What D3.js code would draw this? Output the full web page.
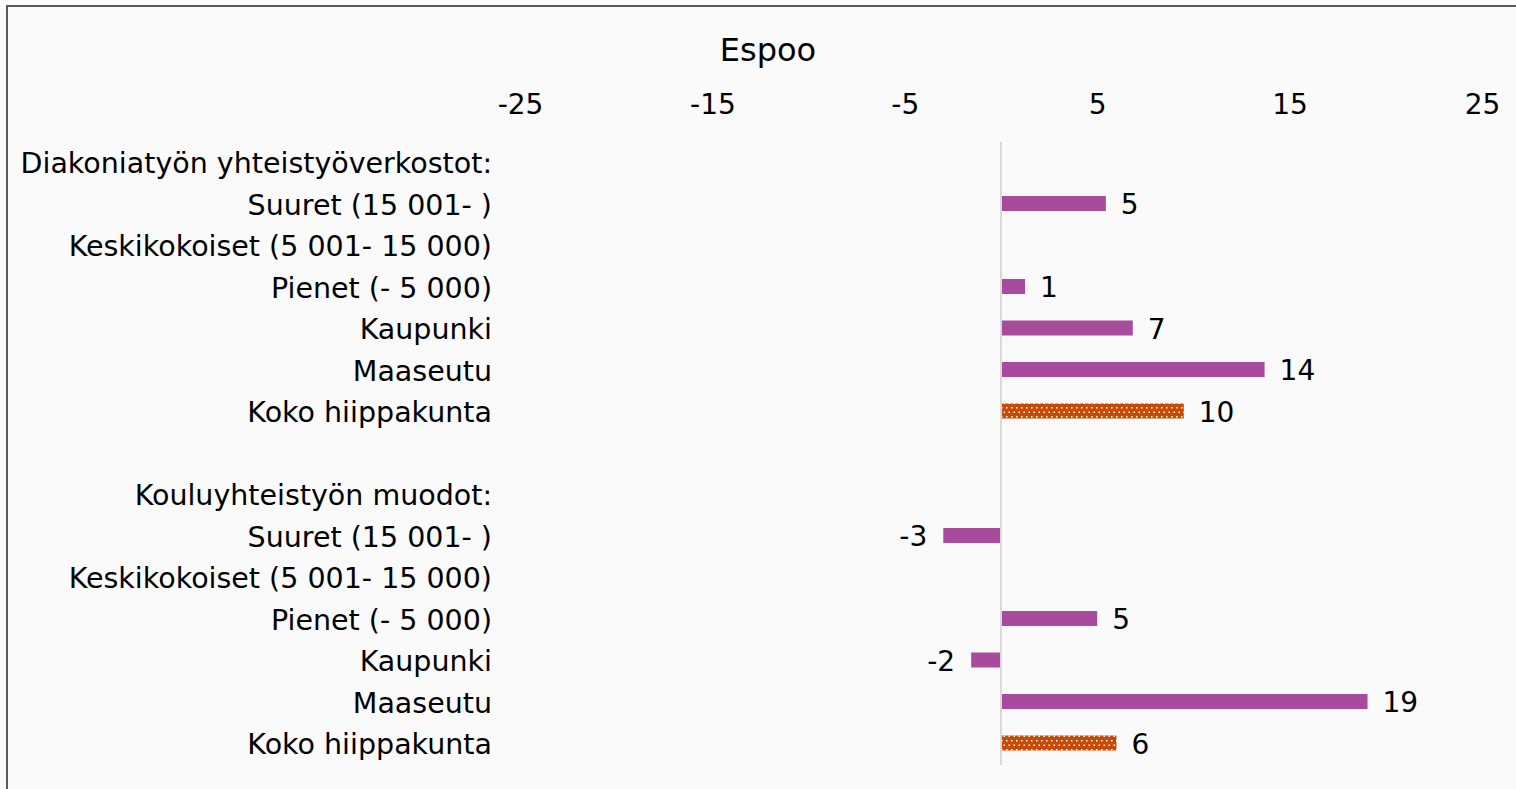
<!DOCTYPE html>
<html><head><meta charset="utf-8">
<script src="https://cdn.jsdelivr.net/npm/d3@7"></script>
<style>
html,body{margin:0;padding:0;background:#fafafa;}
svg{display:block;font-family:"DejaVu Sans",Verdana,sans-serif;}
</style></head>
<body><svg id="chart" width="1516" height="789"></svg>
<script>
const title = "Espoo";
const categories = [
  "Diakoniatyön yhteistyöverkostot:",
  "Suuret (15 001- )",
  "Keskikokoiset (5 001- 15 000)",
  "Pienet (- 5 000)",
  "Kaupunki",
  "Maaseutu",
  "Koko hiippakunta",
  "",
  "Kouluyhteistyön muodot:",
  "Suuret (15 001- )",
  "Keskikokoiset (5 001- 15 000)",
  "Pienet (- 5 000)",
  "Kaupunki",
  "Maaseutu",
  "Koko hiippakunta"
];
const values = [null, 5.45, null, 1.25, 6.85, 13.7, 9.5, null, null, -3.0, null, 5.0, -1.55, 19.05, 6.0];
const isTotal = [false,false,false,false,false,false,true,false,false,false,false,false,false,false,true];
const tickValues = [-25, -15, -5, 5, 15, 25];

const svg = d3.select("#chart");
const W = 1516, H = 789;
svg.append("rect").attr("x",7).attr("y",6).attr("width",W).attr("height",H)
  .attr("fill","#fafafa").attr("stroke","#595959").attr("stroke-width",2);

const defs = svg.append("defs");
const pat = defs.append("pattern").attr("id","dots").attr("patternUnits","userSpaceOnUse")
  .attr("width",5).attr("height",9).attr("y",1);
pat.append("rect").attr("width",5).attr("height",9).attr("fill","#C84B05");
pat.append("rect").attr("x",1).attr("y",1).attr("width",1.5).attr("height",1.5).attr("fill","#fff");
pat.append("rect").attr("x",3.5).attr("y",5.5).attr("width",1.5).attr("height",1.5).attr("fill","#fff");

const x = d3.scaleLinear().domain([-25,25]).range([520,1482]);
const y = d3.scalePoint().domain(d3.range(categories.length)).range([162,743]);

const fs = 28.5;
svg.append("text").attr("x",768).attr("y",50).attr("text-anchor","middle")
  .attr("dy","0.35em").attr("font-size",32).attr("fill","#000").text(title);

const axis = svg.append("g").attr("transform","translate(0,104)")
  .call(d3.axisTop(x).tickValues(tickValues).tickSize(0).tickPadding(0).tickFormat(d=>String(d)));
axis.select(".domain").remove();
axis.selectAll("text").attr("font-size",28).attr("font-family","DejaVu Sans, Verdana, sans-serif")
  .attr("fill","#000").attr("dy","0.36em");

svg.append("line").attr("x1",x(0)).attr("x2",x(0)).attr("y1",142).attr("y2",765)
  .attr("stroke","#d9d9d9").attr("stroke-width",2);

svg.append("g").selectAll("text").data(categories).join("text")
  .attr("x",492).attr("y",(d,i)=>y(i)).attr("text-anchor","end").attr("dy","0.39em")
  .attr("font-size",fs).attr("fill","#000").text(d=>d);

const data = values.map((v,i)=>({v,i,total:isTotal[i]})).filter(d=>d.v!==null);
const bh = 15;
svg.append("g").selectAll("rect").data(data).join("rect")
  .attr("x",d=>x(Math.min(0,d.v))+(d.v>0?1:0))
  .attr("y",d=>y(d.i)-bh/2)
  .attr("width",d=>Math.abs(x(d.v)-x(0))-1)
  .attr("height",bh)
  .attr("fill",d=>d.total?"url(#dots)":"#A94B9C");

svg.append("g").selectAll("text").data(data).join("text")
  .attr("x",d=>d.v>=0 ? x(d.v)+15 : x(d.v)-16)
  .attr("y",d=>y(d.i)).attr("dy","0.39em")
  .attr("text-anchor",d=>d.v>=0?"start":"end")
  .attr("font-size",28).attr("fill","#000")
  .text(d=>Math.round(d.v));
</script></body></html>
